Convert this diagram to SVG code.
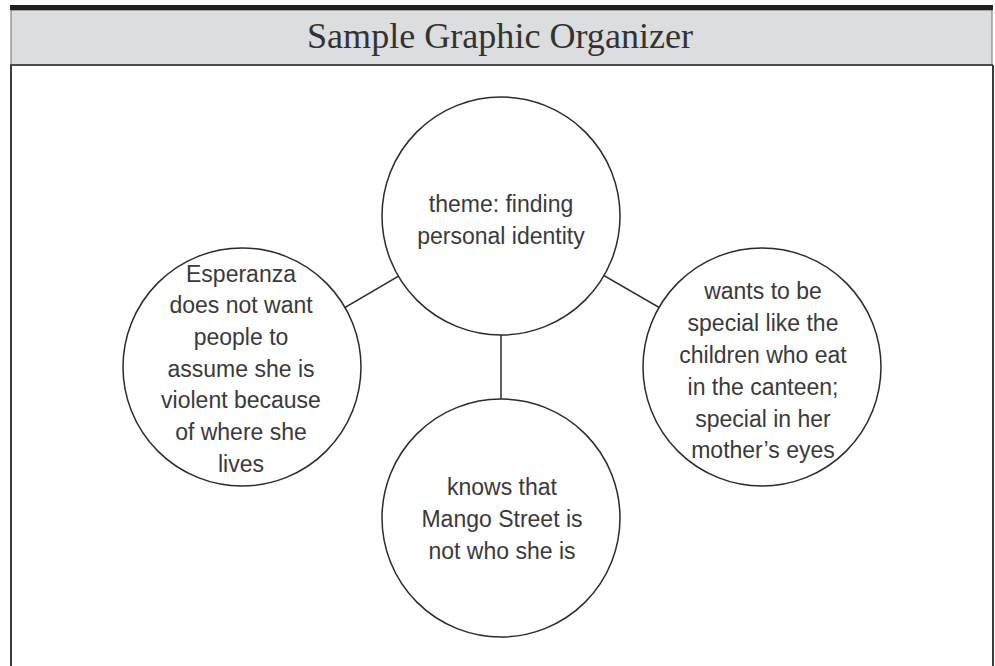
<svg xmlns="http://www.w3.org/2000/svg" width="995" height="666" viewBox="0 0 995 666">
  <style>
    .node circle { fill: #ffffff; stroke: #2b2b2b; stroke-width: 1.5; }
    .node text { font-family: "Liberation Sans", "DejaVu Sans", sans-serif; font-size: 23px; fill: #3a3a3a; text-anchor: middle; }
    .conn line { stroke: #2b2b2b; stroke-width: 1.5; }
    .title { font-family: "Liberation Serif", "DejaVu Serif", serif; font-size: 36px; fill: #333333; text-anchor: middle; }
  </style>
  <rect x="0" y="0" width="995" height="666" fill="#ffffff"/>
  <g id="frame">
    <rect x="11" y="10" width="981" height="55" fill="#dcdddf" stroke="#6d6e70" stroke-width="1"/>
    <line x1="10" y1="65" x2="993" y2="65" stroke="#4d4d4f" stroke-width="2"/>
    <rect x="10" y="5" width="983" height="5" fill="#231f20"/>
    <line x1="11" y1="65" x2="11" y2="666" stroke="#3a3a3a" stroke-width="2"/>
    <line x1="993" y1="65" x2="993" y2="666" stroke="#3a3a3a" stroke-width="2"/>
    <text class="title" x="500" y="48" textLength="386" lengthAdjust="spacingAndGlyphs">Sample Graphic Organizer</text>
  </g>
  <g id="connectors" class="conn">
    <line x1="501" y1="216" x2="242" y2="368"/>
    <line x1="501" y1="216" x2="762" y2="367"/>
    <line x1="501" y1="216" x2="501" y2="518"/>
  </g>
  <g id="node-center" class="node">
    <circle cx="501" cy="216" r="119"/>
    <text x="501" y="212">theme: finding</text>
    <text x="501" y="244">personal identity</text>
  </g>
  <g id="node-left" class="node">
    <circle cx="242" cy="367" r="119"/>
    <text x="241" y="282">Esperanza</text>
    <text x="241" y="313">does not want</text>
    <text x="241" y="345">people to</text>
    <text x="241" y="377">assume she is</text>
    <text x="241" y="408">violent because</text>
    <text x="241" y="440">of where she</text>
    <text x="241" y="472">lives</text>
  </g>
  <g id="node-right" class="node">
    <circle cx="762" cy="367" r="119"/>
    <text x="763" y="299">wants to be</text>
    <text x="763" y="331">special like the</text>
    <text x="763" y="363">children who eat</text>
    <text x="763" y="395">in the canteen;</text>
    <text x="763" y="427">special in her</text>
    <text x="763" y="458">mother’s eyes</text>
  </g>
  <g id="node-bottom" class="node">
    <circle cx="501" cy="518" r="119"/>
    <text x="502" y="495">knows that</text>
    <text x="502" y="527">Mango Street is</text>
    <text x="502" y="559">not who she is</text>
  </g>
</svg>
